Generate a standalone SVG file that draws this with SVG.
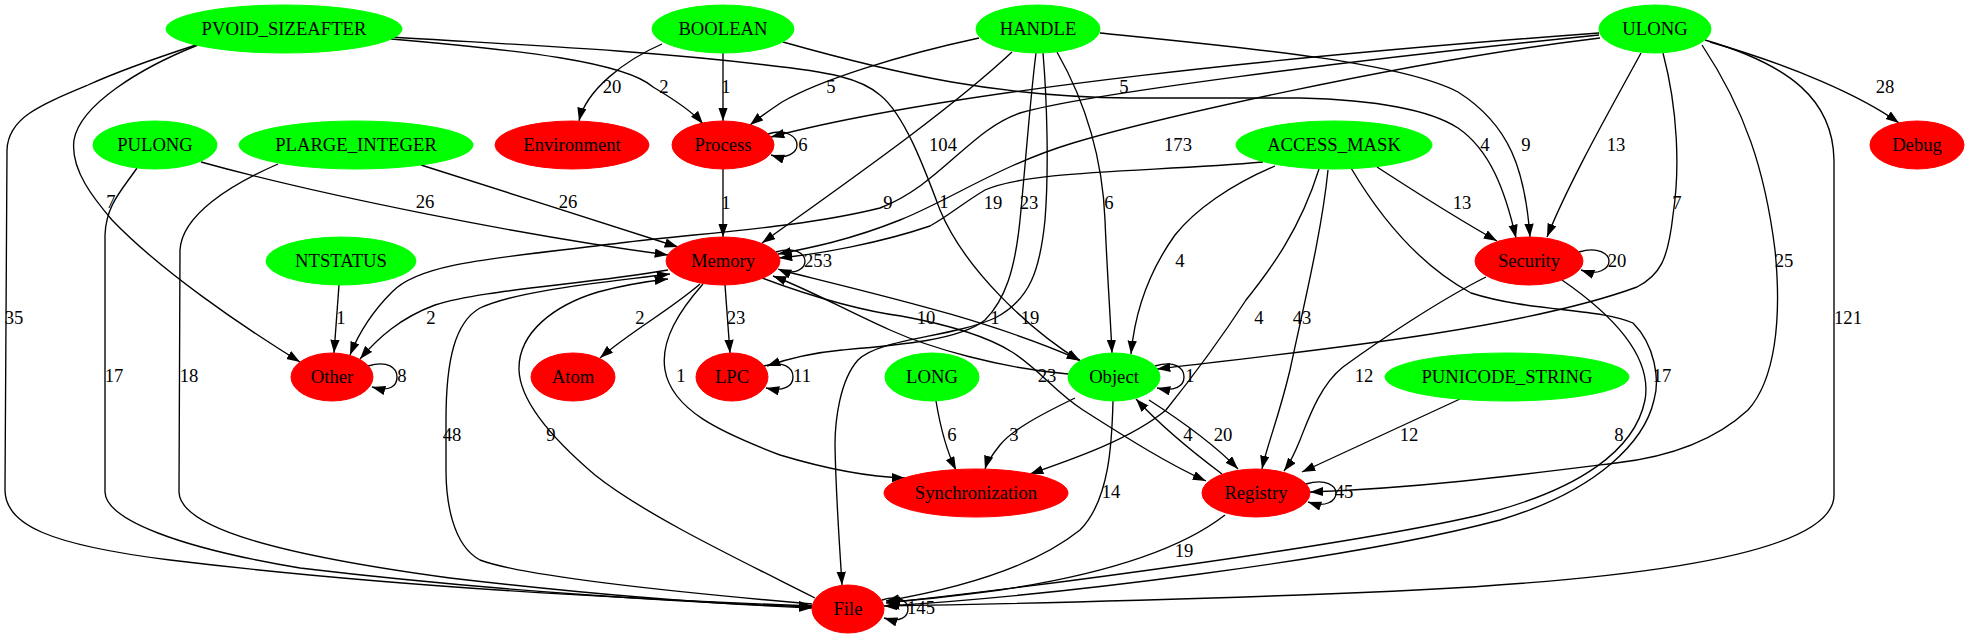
<svg xmlns="http://www.w3.org/2000/svg" width="1969" height="639" viewBox="0 0 1969 639">
<style>
text{font-family:"Liberation Serif","Times New Roman",serif;font-size:18.67px;fill:#000}
.n text{text-anchor:middle}
.g ellipse{fill:#00ff00;stroke:#00ff00}
.r ellipse{fill:#ff0000;stroke:#ff0000}
#edges path{fill:none;stroke:#000;stroke-width:1.35;marker-end:url(#a)}
#labels text{text-anchor:middle}
</style>
<defs>
<marker id="a" markerWidth="14" markerHeight="10" refX="13.3" refY="4.67" orient="auto" markerUnits="userSpaceOnUse"><path d="M0,0 L13.3,4.67 L0,9.33 z" fill="#000"/></marker>
</defs>
<rect width="1969" height="639" fill="#fff"/>
<g id="edges">
<path d="M391,39 C520,50 625,62 653,87 C675,100 693,112 703,124"/>
<path d="M391,37 C520,45 640,50 766,65 C830,72 860,78 880,95 C905,115 925,170 940,210 C965,270 1030,330 1080,361"/>
<path d="M198,45 C140,68 80,105 74,140 C70,170 95,200 112,220 C160,270 240,325 300,362"/>
<path d="M196,45 C150,60 110,75 88,85 C40,105 8,118 7,150 L5,490 C5,525 50,545 170,560 C400,588 650,600 812,606"/>
<path d="M137,168 C122,190 106,205 105,235 L105,492 C106,520 180,548 300,568 C500,592 700,603 812,607"/>
<path d="M278,164 C230,185 182,215 180,250 L179,492 C180,528 280,555 450,578 C620,598 740,605 812,608"/>
<path d="M201,162 C320,195 520,235 668,255"/>
<path d="M421,165 C500,190 600,222 678,247"/>
<path d="M339,285 L334,353"/>
<path d="M662,44 C625,60 586,90 579,121"/>
<path d="M723,53 L723,121"/>
<path d="M783,42 C900,75 1000,97 1130,98 L1300,98 C1380,100 1430,110 1458,128 C1490,150 1505,190 1516,238"/>
<path d="M979,38 C900,55 820,80 782,102 C770,110 760,117 750,125"/>
<path d="M1012,52 C950,110 850,180 762,243"/>
<path d="M1036,53 C1030,100 1025,170 1020,220 C1015,270 1005,300 985,320 C960,340 900,345 842,350 C810,353 790,358 767,366"/>
<path d="M1043,53 C1047,100 1049,170 1045,220 C1040,270 1030,300 995,318 C950,338 880,338 858,360 C840,380 835,420 835,445 C836,500 840,550 842,585"/>
<path d="M1057,52 C1090,110 1103,170 1105,220 C1107,270 1110,310 1112,353"/>
<path d="M1100,33 C1250,48 1400,62 1458,92 C1510,125 1525,170 1530,237"/>
<path d="M1599,33 C1300,55 950,90 771,137"/>
<path d="M1599,35 C1350,60 1080,95 1020,113 C970,130 940,185 880,208 C800,228 700,233 620,243 C500,258 420,262 392,292 C372,312 358,335 350,355"/>
<path d="M1600,38 C1400,62 1150,120 1073,143 C1000,165 950,200 900,220 C850,240 810,248 778,254"/>
<path d="M1263,162 C1150,172 1030,170 985,190 C960,205 950,215 930,226 C880,243 820,254 779,258"/>
<path d="M1641,53 C1610,110 1570,180 1547,237"/>
<path d="M1663,53 C1678,110 1680,170 1673,215 C1668,260 1660,275 1637,287 C1520,330 1300,352 1157,369"/>
<path d="M1702,45 C1745,110 1765,170 1775,250 C1782,320 1775,380 1748,410 C1710,445 1660,458 1616,463 C1520,475 1420,488 1310,492"/>
<path d="M1705,40 C1790,65 1833,100 1834,160 L1834,495 C1834,560 1600,585 1300,595 C1100,602 950,605 884,606"/>
<path d="M1710,42 C1790,65 1860,95 1899,123"/>
<path d="M768,134 C786,128 797,137 797,145 C797,153 786,160 771,155"/>
<path d="M723,169 L723,237"/>
<path d="M776,252 C795,246 805,254 805,261 C805,269 795,276 778,269"/>
<path d="M668,270 C580,285 480,290 435,305 C400,318 378,338 360,359"/>
<path d="M700,284 C670,310 630,332 600,358"/>
<path d="M725,285 L730,353"/>
<path d="M703,284 C680,310 660,340 665,370 C672,410 720,432 780,455 C830,470 870,477 905,478"/>
<path d="M762,278 C820,300 870,312 901,316 C950,325 990,338 1012,352 C1040,370 1055,392 1083,410 C1130,440 1170,465 1206,481"/>
<path d="M780,270 C880,295 990,320 1080,360"/>
<path d="M1068,374 C1000,368 930,348 890,330 C845,310 810,290 773,276"/>
<path d="M812,604 C650,590 520,575 480,560 C452,545 446,500 446,470 L446,420 C446,360 455,322 480,308 C520,290 600,283 670,274"/>
<path d="M815,598 C740,560 645,515 595,475 C548,435 520,400 519,370 C518,332 555,305 598,292 C628,284 650,281 668,279"/>
<path d="M1377,167 C1420,195 1460,220 1497,241"/>
<path d="M1328,170 C1322,230 1305,300 1290,370 C1278,420 1267,445 1262,469"/>
<path d="M1319,169 C1300,230 1270,270 1246,300 C1220,340 1190,380 1166,410 C1130,440 1070,460 1030,474"/>
<path d="M1275,166 C1230,185 1195,210 1175,235 C1150,270 1135,310 1131,354"/>
<path d="M1351,168 C1370,200 1410,260 1471,293 C1530,312 1600,308 1633,323 C1655,345 1660,380 1654,400 C1645,440 1600,490 1500,520 C1350,560 1050,596 886,606"/>
<path d="M1579,252 C1598,246 1609,254 1609,261 C1609,269 1598,276 1581,270"/>
<path d="M1486,277 C1440,300 1380,340 1343,367 C1320,385 1308,420 1300,440 C1294,455 1290,463 1284,471"/>
<path d="M1562,280 C1620,320 1652,360 1645,400 C1635,450 1580,490 1480,515 C1350,545 1050,585 886,603"/>
<path d="M368,366 C388,360 397,368 397,377 C397,386 390,392 372,387"/>
<path d="M764,366 C784,360 793,368 793,377 C793,386 784,392 766,388"/>
<path d="M936,401 C940,425 946,450 956,470"/>
<path d="M1155,366 C1175,360 1184,368 1184,377 C1184,386 1175,392 1157,388"/>
<path d="M1075,398 C1040,415 1012,430 1000,445 C992,455 987,462 985,469"/>
<path d="M1149,400 C1180,420 1212,442 1238,469"/>
<path d="M1222,474 C1190,450 1160,425 1136,399"/>
<path d="M1113,401 C1112,440 1110,500 1080,530 C1030,570 950,590 886,601"/>
<path d="M1460,399 L1302,472"/>
<path d="M1306,484 C1326,478 1336,486 1336,493 C1336,501 1326,508 1308,502"/>
<path d="M1225,515 C1180,550 1100,575 1000,590 C940,598 905,601 887,602"/>
<path d="M882,600 C900,594 908,602 908,609 C908,617 900,623 884,618"/>
</g>
<g id="labels">
<text x="664" y="93">2</text><text x="726" y="93">1</text><text x="831" y="93">5</text><text x="1124" y="93">5</text><text x="612" y="93">20</text><text x="1885" y="93">28</text>
<text x="803" y="151">6</text><text x="943" y="151">104</text><text x="1178" y="151">173</text><text x="1485" y="151">4</text><text x="1526" y="151">9</text><text x="1616" y="151">13</text>
<text x="111" y="208">7</text><text x="425" y="208">26</text><text x="568" y="208">26</text><text x="726" y="209">1</text><text x="888" y="209">9</text><text x="944" y="208">1</text><text x="993" y="209">19</text><text x="1029" y="209">23</text><text x="1109" y="209">6</text><text x="1462" y="209">13</text><text x="1677" y="209">7</text>
<text x="818" y="267">253</text><text x="1180" y="267">4</text><text x="1617" y="267">20</text><text x="1784" y="267">25</text>
<text x="14" y="324">35</text><text x="341" y="324">1</text><text x="431" y="324">2</text><text x="640" y="324">2</text><text x="736" y="324">23</text><text x="926" y="324">10</text><text x="995" y="324">1</text><text x="1030" y="324">19</text><text x="1259" y="324">4</text><text x="1302" y="324">43</text><text x="1848" y="324">121</text>
<text x="114" y="382">17</text><text x="189" y="382">18</text><text x="402" y="382">8</text><text x="681" y="382">1</text><text x="802" y="382">11</text><text x="1047" y="382">23</text><text x="1190" y="382">1</text><text x="1364" y="382">12</text><text x="1662" y="382">17</text>
<text x="452" y="441">48</text><text x="551" y="441">9</text><text x="952" y="441">6</text><text x="1014" y="441">3</text><text x="1188" y="441">4</text><text x="1223" y="441">20</text><text x="1409" y="441">12</text><text x="1619" y="441">8</text>
<text x="1111" y="498">14</text><text x="1344" y="498">45</text><text x="1184" y="557">19</text><text x="921" y="614">145</text>
</g>
<g id="n-PVOID_SIZEAFTER" class="n g"><ellipse cx="284" cy="29" rx="118" ry="24"/><text x="284" y="35">PVOID_SIZEAFTER</text></g>
<g id="n-BOOLEAN" class="n g"><ellipse cx="723" cy="29" rx="71" ry="24"/><text x="723" y="35">BOOLEAN</text></g>
<g id="n-HANDLE" class="n g"><ellipse cx="1038" cy="29" rx="62" ry="24"/><text x="1038" y="35">HANDLE</text></g>
<g id="n-ULONG" class="n g"><ellipse cx="1655" cy="29" rx="56" ry="24"/><text x="1655" y="35">ULONG</text></g>
<g id="n-PULONG" class="n g"><ellipse cx="155" cy="145" rx="62" ry="24"/><text x="155" y="151">PULONG</text></g>
<g id="n-PLARGE_INTEGER" class="n g"><ellipse cx="356" cy="145" rx="117" ry="24"/><text x="356" y="151">PLARGE_INTEGER</text></g>
<g id="n-Environment" class="n r"><ellipse cx="572" cy="145" rx="77" ry="24"/><text x="572" y="151">Environment</text></g>
<g id="n-Process" class="n r"><ellipse cx="723" cy="145" rx="51" ry="24"/><text x="723" y="151">Process</text></g>
<g id="n-ACCESS_MASK" class="n g"><ellipse cx="1334" cy="145" rx="98" ry="24"/><text x="1334" y="151">ACCESS_MASK</text></g>
<g id="n-Debug" class="n r"><ellipse cx="1917" cy="145" rx="47" ry="24"/><text x="1917" y="151">Debug</text></g>
<g id="n-NTSTATUS" class="n g"><ellipse cx="341" cy="261" rx="75" ry="24"/><text x="341" y="267">NTSTATUS</text></g>
<g id="n-Memory" class="n r"><ellipse cx="723" cy="261" rx="57" ry="24"/><text x="723" y="267">Memory</text></g>
<g id="n-Security" class="n r"><ellipse cx="1529" cy="261" rx="54" ry="24"/><text x="1529" y="267">Security</text></g>
<g id="n-Other" class="n r"><ellipse cx="332" cy="377" rx="41" ry="24"/><text x="332" y="383">Other</text></g>
<g id="n-Atom" class="n r"><ellipse cx="573" cy="377" rx="42" ry="24"/><text x="573" y="383">Atom</text></g>
<g id="n-LPC" class="n r"><ellipse cx="732" cy="377" rx="36" ry="24"/><text x="732" y="383">LPC</text></g>
<g id="n-LONG" class="n g"><ellipse cx="932" cy="377" rx="47" ry="24"/><text x="932" y="383">LONG</text></g>
<g id="n-Object" class="n g"><ellipse cx="1114" cy="377" rx="46" ry="24"/><text x="1114" y="383">Object</text></g>
<g id="n-PUNICODE_STRING" class="n g"><ellipse cx="1507" cy="377" rx="122" ry="24"/><text x="1507" y="383">PUNICODE_STRING</text></g>
<g id="n-Synchronization" class="n r"><ellipse cx="976" cy="493" rx="92" ry="24"/><text x="976" y="499">Synchronization</text></g>
<g id="n-Registry" class="n r"><ellipse cx="1256" cy="493" rx="54" ry="24"/><text x="1256" y="499">Registry</text></g>
<g id="n-File" class="n r"><ellipse cx="848" cy="609" rx="36" ry="24"/><text x="848" y="615">File</text></g>
</svg>
